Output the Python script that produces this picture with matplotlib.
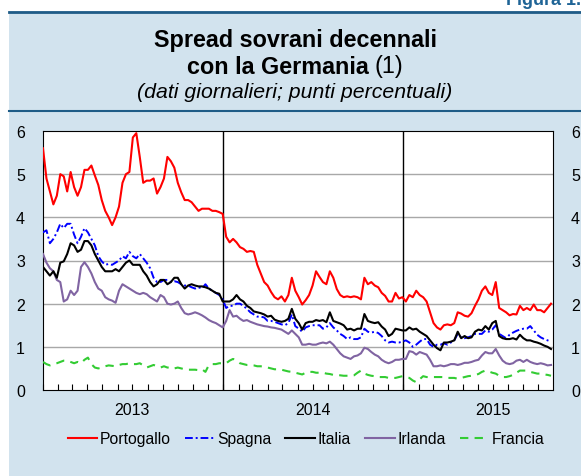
import pandas as pd
import matplotlib.pyplot as plt
import matplotlib.dates as mdates
from matplotlib.patches import Rectangle
from matplotlib.lines import Line2D

plt.rcParams['font.family'] = ['Liberation Sans', 'DejaVu Sans']

# weekly readings, first week of Jan 2013 to end of Oct 2015
dates = pd.date_range('2013-01-01', periods=148, freq='7D')

portogallo = [5.6, 4.9, 4.6, 4.3, 4.5, 5.0, 4.95, 4.6, 5.05, 4.7,
              4.5, 4.7, 5.1, 5.1, 5.2, 4.97, 4.75, 4.4, 4.15, 4.0,
              3.82, 4.0, 4.25, 4.8, 5.0, 5.05, 5.85, 5.95, 5.4, 4.8,
              4.85, 4.85, 4.9, 4.55, 4.7, 4.9, 5.4, 5.3, 5.15, 4.8,
              4.58, 4.4, 4.4, 4.35, 4.25, 4.15, 4.2, 4.2, 4.2, 4.15,
              4.15, 4.12, 4.08, 3.55, 3.42, 3.5, 3.42, 3.31, 3.27, 3.2,
              3.22, 3.2, 2.9, 2.7, 2.5, 2.42, 2.27, 2.15, 2.1, 2.17,
              2.05, 2.2, 2.6, 2.3, 2.15, 1.98, 2.08, 2.2, 2.42, 2.75,
              2.62, 2.5, 2.45, 2.75, 2.6, 2.34, 2.2, 2.15, 2.17, 2.15,
              2.17, 2.15, 2.1, 2.6, 2.45, 2.5, 2.42, 2.38, 2.25, 2.18,
              2.05, 2.05, 2.25, 2.12, 2.15, 2.05, 2.2, 2.15, 2.3, 2.2,
              2.15, 2.05, 1.8, 1.55, 1.45, 1.4, 1.5, 1.52, 1.5, 1.55,
              1.8, 1.77, 1.72, 1.7, 1.78, 1.95, 2.1, 2.3, 2.4, 2.25,
              2.2, 2.5, 1.9, 1.85, 1.8, 1.73, 1.76, 1.75, 1.95, 1.85,
              1.9, 1.85, 1.98, 1.85, 1.85, 1.8, 1.9, 2.0]

spagna = [3.65, 3.7, 3.4, 3.5, 3.65, 3.85, 3.75, 3.85, 3.85, 3.6,
          3.4, 3.55, 3.75, 3.65, 3.5, 3.35, 3.1, 2.98, 2.9, 2.92,
          2.9, 2.95, 3.0, 3.1, 3.05, 3.2, 3.1, 3.05, 3.15, 3.05,
          2.95, 2.82, 2.6, 2.5, 2.5, 2.55, 2.55, 2.5, 2.52, 2.5,
          2.45, 2.42, 2.42, 2.38, 2.35, 2.38, 2.35, 2.45, 2.35, 2.3,
          2.25, 2.2, 2.1, 1.9, 1.95, 1.95, 2.0, 2.0, 1.95, 1.88,
          1.8, 1.75, 1.7, 1.7, 1.68, 1.6, 1.6, 1.58, 1.55, 1.52,
          1.5, 1.55, 1.75, 1.48, 1.42, 1.35, 1.45, 1.48, 1.5, 1.5,
          1.5, 1.42, 1.45, 1.55, 1.45, 1.38, 1.3, 1.25, 1.18, 1.22,
          1.18, 1.18, 1.22, 1.42, 1.35, 1.33, 1.35, 1.32, 1.25, 1.15,
          1.1, 1.12, 1.1, 1.1, 1.12, 1.15, 1.1, 1.0, 1.05, 1.12,
          1.18, 1.18, 1.05, 1.0, 1.05, 1.05, 1.08, 1.05, 1.1, 1.15,
          1.3, 1.22, 1.2, 1.22, 1.25, 1.3, 1.3, 1.3, 1.38, 1.35,
          1.4, 1.5, 1.3, 1.25, 1.2, 1.28, 1.33, 1.37, 1.4, 1.42,
          1.42, 1.48, 1.38, 1.28, 1.22, 1.18, 1.15, 1.12]

italia = [2.85, 2.75, 2.65, 2.75, 2.6, 2.95, 2.98, 3.15, 3.4, 3.35,
          3.2, 3.25, 3.45, 3.45, 3.35, 3.15, 3.0, 2.85, 2.75, 2.75,
          2.75, 2.8, 2.75, 2.85, 2.95, 3.0, 2.9, 2.9, 2.9, 2.75,
          2.65, 2.5, 2.4, 2.45, 2.55, 2.55, 2.45, 2.5, 2.6, 2.6,
          2.45, 2.35, 2.42, 2.45, 2.42, 2.4, 2.4, 2.38, 2.35, 2.3,
          2.25, 2.23, 2.05, 2.05, 2.05, 2.1, 2.2, 2.1, 2.05, 1.95,
          1.9, 1.82, 1.8, 1.78, 1.75, 1.7, 1.72, 1.63, 1.6, 1.58,
          1.6, 1.65, 1.88, 1.65, 1.55, 1.4, 1.55, 1.58, 1.58, 1.62,
          1.6, 1.62, 1.57, 1.8, 1.6, 1.57, 1.54, 1.5, 1.4, 1.42,
          1.38, 1.42, 1.42, 1.76, 1.6, 1.57, 1.55, 1.57, 1.47, 1.4,
          1.25, 1.3, 1.42, 1.4, 1.38, 1.38, 1.45, 1.4, 1.42, 1.35,
          1.3, 1.25, 1.15, 1.05, 0.97, 0.92, 1.1, 1.1, 1.12, 1.15,
          1.35, 1.2, 1.25, 1.2, 1.22, 1.35, 1.4, 1.38, 1.48, 1.4,
          1.55, 1.6, 1.25, 1.2, 1.18, 1.18, 1.2, 1.17, 1.28, 1.2,
          1.15, 1.15, 1.12, 1.1, 1.07, 1.03, 1.0, 0.95]

irlanda = [3.15, 2.95, 2.82, 2.75, 2.55, 2.5, 2.05, 2.1, 2.3, 2.2,
           2.3, 2.85, 2.96, 2.85, 2.7, 2.5, 2.35, 2.3, 2.15, 2.1,
           2.07, 2.02, 2.3, 2.45, 2.4, 2.35, 2.3, 2.25, 2.22, 2.25,
           2.22, 2.15, 2.1, 2.05, 2.2, 2.15, 2.0, 1.98, 2.0, 2.05,
           1.9, 1.78, 1.75, 1.77, 1.8, 1.77, 1.73, 1.68, 1.62, 1.58,
           1.55, 1.5, 1.45, 1.6, 1.85, 1.7, 1.72, 1.65, 1.6, 1.62,
           1.58, 1.55, 1.52, 1.5, 1.48, 1.47, 1.45, 1.44, 1.42, 1.4,
           1.35, 1.3, 1.38, 1.3, 1.22, 1.05, 1.05, 1.07, 1.05, 1.05,
           1.08, 1.1, 1.08, 1.12, 1.05, 0.95, 0.85, 0.78, 0.75, 0.72,
           0.78, 0.8, 0.85, 0.98, 0.95, 0.88, 0.82, 0.78, 0.7, 0.65,
           0.62, 0.65, 0.7, 0.7, 0.72, 0.72, 0.9, 0.88, 0.82, 0.88,
           0.85, 0.82, 0.7, 0.55, 0.55, 0.57, 0.55, 0.57, 0.6, 0.6,
           0.58, 0.6, 0.63, 0.63, 0.65, 0.68, 0.7, 0.8, 0.88, 0.85,
           0.85, 0.95, 0.8, 0.68, 0.62, 0.6, 0.62, 0.68, 0.7, 0.65,
           0.7, 0.65, 0.62, 0.6, 0.62, 0.6, 0.57, 0.58]

francia = [0.65, 0.6, 0.57, 0.6, 0.62, 0.65, 0.68, 0.68, 0.65, 0.62,
           0.65, 0.62, 0.7, 0.75, 0.6, 0.52, 0.5, 0.52, 0.55, 0.57,
           0.56, 0.55, 0.58, 0.6, 0.6, 0.62, 0.6, 0.6, 0.62, 0.57,
           0.52, 0.55, 0.58, 0.55, 0.52, 0.55, 0.52, 0.53, 0.5, 0.52,
           0.5, 0.48, 0.47, 0.47, 0.47, 0.46, 0.48, 0.42, 0.58, 0.6,
           0.6, 0.62, 0.62, 0.62, 0.68, 0.72, 0.68, 0.62, 0.6, 0.58,
           0.58, 0.57, 0.55, 0.55, 0.53, 0.52, 0.5, 0.48, 0.48, 0.47,
           0.45, 0.43, 0.42, 0.4, 0.38, 0.36, 0.4, 0.42, 0.42, 0.4,
           0.4, 0.4, 0.38, 0.37, 0.35, 0.35, 0.34, 0.33, 0.33, 0.33,
           0.34, 0.4, 0.45, 0.38, 0.35, 0.33, 0.32, 0.3, 0.3, 0.3,
           0.28, 0.28, 0.28, 0.3, 0.32, 0.3, 0.28, 0.22, 0.18, 0.25,
           0.32, 0.3, 0.3, 0.3, 0.3, 0.3, 0.3, 0.28, 0.28, 0.28,
           0.26, 0.28, 0.3, 0.32, 0.33, 0.35, 0.37, 0.42, 0.45, 0.43,
           0.4, 0.38, 0.33, 0.3, 0.3, 0.32, 0.35, 0.4, 0.45, 0.45,
           0.45, 0.42, 0.4, 0.38, 0.38, 0.36, 0.35, 0.33]

W, H = 581, 477
bg = '#d2e3ee'
dark = '#1f5c87'


def fx(px):
    return px / W


def fy(py):
    return 1 - py / H


fig = plt.figure(figsize=(W / 100, H / 100), dpi=100)
fig.patches.append(Rectangle((fx(9), 0), 1 - fx(9), fy(12), transform=fig.transFigure,
                             facecolor=bg, edgecolor='none', zorder=-5))
fig.add_artist(Line2D([fx(9), 1], [fy(13), fy(13)], color=dark, lw=2))
fig.add_artist(Line2D([fx(9), 1], [fy(112), fy(112)], color=dark, lw=1.5))
fig.text(fx(581), fy(5), 'Figura 1.', ha='right', va='baseline', color='#1f6496',
         fontweight='bold', fontsize=13)

# title
cx = fx(295)
fig.text(cx, fy(40), 'Spread sovrani decennali', ha='center', va='center',
         fontsize=16.8, fontweight='bold')
r = fig.canvas.get_renderer()
ta = fig.text(0, fy(67), 'con la Germania ', va='center', fontsize=16.8, fontweight='bold')
tb = fig.text(0, fy(67), '(1)', va='center', fontsize=16.8)
wa = ta.get_window_extent(r).width / W
wb = tb.get_window_extent(r).width / W
ta.set_x(cx - (wa + wb) / 2)
tb.set_x(cx - (wa + wb) / 2 + wa)
fig.text(cx, fy(92), '(dati giornalieri; punti percentuali)', ha='center', va='center',
         fontsize=15.3, fontstyle='italic')

ax = fig.add_axes([fx(43), fy(391), fx(553) - fx(43), fy(132) - fy(391)])
ax.set_facecolor('white')

for v in range(1, 6):
    ax.axhline(v, color='#a8a8a8', lw=1, zorder=1)
for d in ['2014-01-01', '2015-01-01']:
    ax.axvline(pd.Timestamp(d), color='black', lw=1, zorder=2)

ax.plot(dates, portogallo, color='#ff0000', lw=1.5, label='Portogallo', zorder=3)
ax.plot(dates, spagna, color='#0000ff', lw=1.4, ls=(0, (4, 1.5, 1, 1.5)), label='Spagna', zorder=3)
ax.plot(dates, italia, color='black', lw=1.5, label='Italia', zorder=4)
ax.plot(dates, irlanda, color='#8064a2', lw=1.5, label='Irlanda', zorder=3)
ax.plot(dates, francia, color='#33cc33', lw=1.5, ls=(0, (4, 3)), label='Francia', zorder=3)

ax.set_ylim(0, 6)
ax.set_xlim(pd.Timestamp('2013-01-01'), pd.Timestamp('2015-10-31'))
ax.set_yticks(range(7))
ax.tick_params(axis='y', length=0, labelsize=11.5, pad=13, labelleft=True, labelright=True)

ax.xaxis.set_major_locator(mdates.MonthLocator(bymonth=7))
ax.xaxis.set_major_formatter(mdates.DateFormatter('%Y'))
ax.xaxis.set_minor_locator(mdates.MonthLocator())
ax.tick_params(axis='x', which='both', direction='in', length=4, width=0.8,
               labelsize=11.5, pad=9)

for s in ax.spines.values():
    s.set_linewidth(0.8)

h, l = ax.get_legend_handles_labels()
fig.legend(h, l, loc='center', bbox_to_anchor=(fx(306), fy(440)), ncol=5, frameon=False,
           fontsize=11.3, handlelength=1.9, handletextpad=0.15, columnspacing=0.9)

fig.savefig('out.png', dpi=100)
